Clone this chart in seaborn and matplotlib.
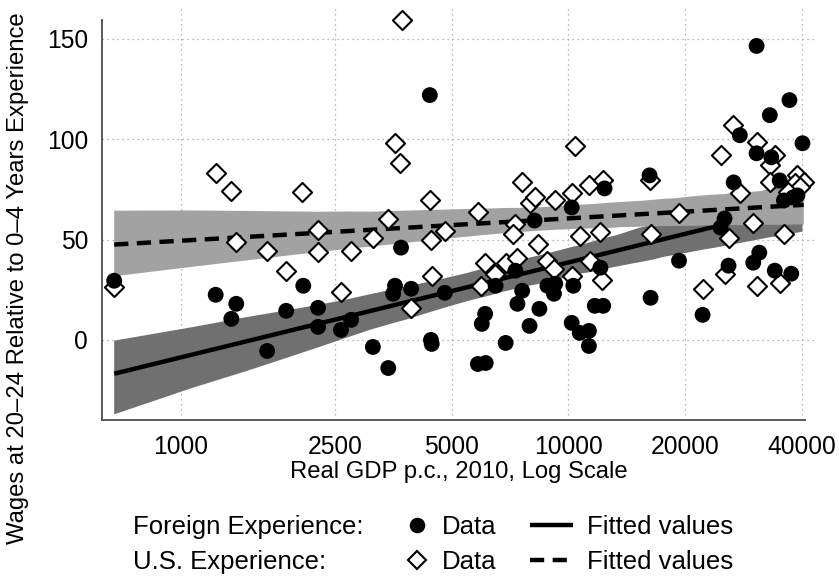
import numpy as np
import pandas as pd
import matplotlib
matplotlib.use("Agg")
import matplotlib.pyplot as plt
import seaborn as sns
from matplotlib.lines import Line2D
from matplotlib.ticker import NullLocator

# ---------------- data ----------------
foreign_gdp = [673, 1230, 1390, 1350, 1670, 2070, 1870, 2260, 2260, 2590,
               2750, 3130, 3430, 3570, 3530, 3930, 3700, 4390, 4420, 4440,
               4800, 5840, 6120, 5980, 6100, 6890, 6490, 7390, 7600, 7300,
               7940, 8420, 8180, 8830, 9180, 9250, 10200, 10300, 10200, 10700,
               11300, 11300, 11700, 12300, 12100, 12400, 16200, 16300, 19300, 22200,
               25300, 24700, 26700, 27700, 25900, 30600, 30600, 33100, 33400, 31100,
               30000, 34100, 37200, 40200, 37600, 35100, 36000, 38000, 39000]
foreign_wage = [29.5, 22.5, 18, 10.5, -5.5, 27, 14.5, 16, 6.5, 5,
                10, -3.5, -14, 27, 23, 25.5, 46, 122, 0, -2,
                23.5, -12, -11.5, 8, 13, -1.5, 27, 18, 24.5, 34.5,
                7, 15.5, 59.5, 27, 23, 28, 66, 27, 8.5, 3.5,
                4.5, -3, 17, 17, 36, 75.5, 82, 21, 39.5, 12.5,
                60.5, 56, 78.5, 102, 37, 146.5, 93, 112, 91, 43.5,
                38.5, 34.5, 119.5, 98, 33, 79.5, 69.5, 71, 72]

us_gdp = [673, 1230, 1350, 1390, 1670, 1870, 2060, 2260, 2260, 2750,
          2590, 3130, 3430, 3570, 3680, 3720, 3930, 4390, 4420, 4440,
          4800, 5840, 6090, 5950, 7600, 7300, 7200, 7940, 8200, 8350,
          6890, 6450, 7390, 8830, 9200, 9250, 10200, 10400, 10700, 11300,
          10200, 11400, 12100, 12300, 12200, 16200, 16300, 19300, 22300, 24700,
          26600, 27700, 25900, 25300, 30600, 34100, 33100, 33100, 30000, 30600,
          35100, 36000, 39000, 40500, 38500, 39500, 36800]
us_wage = [26.5, 83, 74, 49, 44.5, 34.5, 73.5, 55, 44, 44.5,
           24, 51, 60.5, 98, 88, 159.5, 16, 69.5, 50, 32,
           54.5, 63.5, 38.5, 27, 78.5, 58, 53, 68, 71, 48,
           38.5, 33, 41, 39.5, 35.5, 69.5, 73, 96.5, 52, 77,
           32, 39.5, 54, 79.5, 30, 79.5, 53, 63, 25.5, 92,
           107, 73, 51, 33, 98.5, 92, 87, 78.5, 58.5, 27,
           28.5, 53, 82, 78.5, 78, 76, 73.5]

x_ticks = [1000, 2500, 5000, 10000, 20000, 40000]
x_tick_labels = ["1000", "2500", "5000", "10000", "20000", "40000"]
y_ticks = [0, 50, 100, 150]

df_f = pd.DataFrame({"gdp": foreign_gdp, "wage": foreign_wage})
df_u = pd.DataFrame({"gdp": us_gdp, "wage": us_wage})

# ---------------- style ----------------
sns.set_theme(style="white")
plt.rcParams["font.family"] = ["Liberation Sans", "DejaVu Sans"]
plt.rcParams["text.color"] = "black"
plt.rcParams["axes.labelcolor"] = "black"
FS_TICK = 17.7
FS_LAB = 17.2
FS_LEG = 18.5
SPINE = "#5a5a5a"

fig = plt.figure(figsize=(8.39, 5.77), dpi=100)
ax = fig.add_axes([102 / 839, 1 - 420 / 577, (815 - 102) / 839, (420 - 8) / 577])

# foreign fit + CI
n0 = len(ax.collections)
sns.regplot(data=df_f, x="gdp", y="wage", logx=True, scatter=False, ci=95,
            n_boot=1000, seed=3, color="black", ax=ax,
            line_kws=dict(lw=3.2, solid_capstyle="butt", zorder=2))
band_f = ax.collections[n0]
band_f.set_facecolor("#707070"); band_f.set_alpha(1); band_f.set_edgecolor("none"); band_f.set_zorder(1)

# US fit + CI
n1 = len(ax.collections)
sns.regplot(data=df_u, x="gdp", y="wage", logx=True, scatter=False, ci=95,
            n_boot=1000, seed=3, color="black", ax=ax,
            line_kws=dict(lw=3.2, ls=(0, (3.2, 1.9)), dash_capstyle="butt", zorder=4))
band_u = ax.collections[n1]
band_u.set_facecolor("#a2a2a2"); band_u.set_alpha(1); band_u.set_edgecolor("none"); band_u.set_zorder(3)

# scatter points
sns.scatterplot(data=df_u, x="gdp", y="wage", marker="D", s=95, facecolor="white",
                edgecolor="black", linewidth=1.5, ax=ax, zorder=5, legend=False)
sns.scatterplot(data=df_f, x="gdp", y="wage", marker="o", s=130, color="black",
                edgecolor="none", linewidth=0, ax=ax, zorder=6, legend=False)

# ---------------- axes ----------------
ax.set_xscale("log")
ax.set_xlim(626, 43300)
ax.set_ylim(-39.9, 165.4)
ax.set_xticks(x_ticks)
ax.set_xticklabels(x_tick_labels)
ax.xaxis.set_minor_locator(NullLocator())
ax.set_yticks(y_ticks)
ax.set_yticklabels([str(v) for v in y_ticks])

for s in ["top", "right"]:
    ax.spines[s].set_visible(False)
for s in ["left", "bottom"]:
    ax.spines[s].set_color(SPINE)
    ax.spines[s].set_linewidth(1.4)
ax.spines["left"].set_bounds(-39.9, 159.5)
ax.spines["bottom"].set_bounds(626, 40800)

ax.tick_params(axis="both", which="major", direction="out", length=5, width=1.2,
               color=SPINE, labelsize=FS_TICK, labelcolor="black")
ax.tick_params(axis="x", pad=6)
ax.tick_params(axis="y", pad=5)
ax.set_axisbelow(True)
ax.grid(True, which="major", color="#a0a0a0", linewidth=0.9, linestyle=(0, (1, 3)))

ax.set_xlabel("Real GDP p.c., 2010, Log Scale", fontsize=FS_LAB, labelpad=1.5, color="black")
ax.set_ylabel("")
fig.text(18 / 839, 1 - 278 / 577, "Wages at 20\u201324 Relative to 0\u20134 Years Experience",
         rotation=90, ha="center", va="center", fontsize=FS_LAB, color="black")

# ---------------- legend ----------------
fig.text(133 / 839, 1 - 527 / 577, "Foreign Experience:", ha="left", va="center",
         fontsize=FS_LEG, color="black")
fig.text(133 / 839, 1 - 562 / 577, "U.S. Experience:", ha="left", va="center",
         fontsize=FS_LEG, color="black")

h_circ = Line2D([], [], marker="o", ls="none", color="black", markersize=11.2, markeredgewidth=0)
h_diam = Line2D([], [], marker="D", ls="none", markerfacecolor="white", markeredgecolor="black",
                markersize=9.6, markeredgewidth=1.5)
h_solid = Line2D([], [], color="black", lw=3.2, solid_capstyle="butt")
h_dash = Line2D([], [], color="black", lw=3.2, ls=(0, (3.2, 1.9)), dash_capstyle="butt")

yc = 1 - 544.5 / 577
leg1 = fig.legend(handles=[h_circ, h_diam], labels=["Data", "Data"], loc="center left",
                  bbox_to_anchor=(404 / 839, yc), frameon=False, fontsize=FS_LEG, handlelength=1.0,
                  handletextpad=0.48, labelspacing=0.39, borderpad=0, borderaxespad=0)
leg2 = fig.legend(handles=[h_solid, h_dash], labels=["Fitted values", "Fitted values"], loc="center left",
                  bbox_to_anchor=(530 / 839, yc), frameon=False, fontsize=FS_LEG, handlelength=1.67,
                  handletextpad=0.545, labelspacing=0.39, borderpad=0, borderaxespad=0)
for lg in (leg1, leg2):
    for t in lg.get_texts():
        t.set_color("black")

fig.savefig("out.png", dpi=100)
